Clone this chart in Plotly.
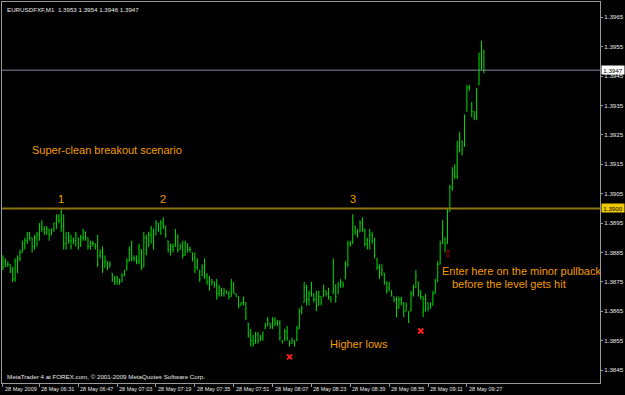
import pandas as pd
import plotly.graph_objects as go

symbol = "EURUSDFXF,M1"
bar_start = "2009-05-28 06:16"

opens = [
1.3880,1.3882,1.3881,1.3881,1.3879,1.3876,1.3882,1.3883,1.3885,1.3888,
1.3889,1.3891,1.3890,1.3887,1.3890,1.3891,1.3894,1.3893,1.3892,1.3893,
1.3891,1.3893,1.3895,1.3897,1.3896,1.3894,1.3888,1.3890,1.3889,1.3888,
1.3889,1.3890,1.3887,1.3890,1.3892,1.3890,1.3887,1.3888,1.3888,1.3887,
1.3884,1.3885,1.3880,1.3882,1.3880,1.3878,1.3876,1.3875,1.3876,1.3875,
1.3877,1.3879,1.3882,1.3886,1.3883,1.3883,1.3882,1.3886,1.3880,1.3890,
1.3887,1.3891,1.3893,1.3891,1.3895,1.3893,1.3895,1.3894,1.3889,1.3886,
1.3887,1.3887,1.3891,1.3886,1.3887,1.3884,1.3888,1.3886,1.3885,1.3883,
1.3880,1.3879,1.3877,1.3880,1.3877,1.3875,1.3874,1.3875,1.3874,1.3871,
1.3872,1.3871,1.3872,1.3871,1.3870,1.3874,1.3871,1.3870,1.3867,1.3868,
1.3868,1.3861,1.3857,1.3855,1.3854,1.3857,1.3855,1.3856,1.3859,1.3860,
1.3861,1.3860,1.3862,1.3861,1.3861,1.3855,1.3855,1.3858,1.3855,1.3854,
1.3855,1.3855,1.3859,1.3865,1.3868,1.3873,1.3869,1.3871,1.3871,1.3869,
1.3867,1.3870,1.3870,1.3872,1.3871,1.3870,1.3871,1.3874,1.3871,1.3874,
1.3875,1.3876,1.3881,1.3888,1.3888,1.3894,1.3892,1.3892,1.3895,1.3893,
1.3888,1.3889,1.3891,1.3889,1.3883,1.3880,1.3878,1.3878,1.3875,1.3872,
1.3872,1.3870,1.3869,1.3866,1.3869,1.3868,1.3865,1.3865,1.3865,1.3871,
1.3873,1.3875,1.3872,1.3870,1.3865,1.3868,1.3866,1.3867,1.3871,1.3875,
1.3881,1.3888,1.3890,1.3888,1.3899,1.3907,1.3912,1.3911,1.3921,1.3923,
1.3921,1.3933,1.3941,1.3936,1.3933,1.3931,1.3942,1.3951,1.3953]

highs = [
1.3884,1.3883,1.3882,1.3881,1.3880,1.3883,1.3884,1.3886,1.3889,1.3890,
1.3892,1.3892,1.3890,1.3891,1.3892,1.3895,1.3896,1.3894,1.3894,1.3893,
1.3893,1.3895,1.3898,1.3898,1.3900,1.3898,1.3892,1.3892,1.3891,1.3890,
1.3892,1.3890,1.3891,1.3893,1.3892,1.3890,1.3889,1.3889,1.3888,1.3891,
1.3886,1.3887,1.3884,1.3882,1.3882,1.3878,1.3877,1.3877,1.3876,1.3878,
1.3879,1.3883,1.3887,1.3889,1.3884,1.3884,1.3888,1.3886,1.3892,1.3891,
1.3892,1.3894,1.3893,1.3896,1.3895,1.3896,1.3897,1.3894,1.3889,1.3888,
1.3888,1.3893,1.3891,1.3888,1.3889,1.3889,1.3888,1.3887,1.3885,1.3885,
1.3883,1.3879,1.3881,1.3883,1.3878,1.3877,1.3876,1.3875,1.3876,1.3874,
1.3873,1.3873,1.3872,1.3872,1.3876,1.3875,1.3871,1.3870,1.3868,1.3870,
1.3868,1.3861,1.3859,1.3857,1.3858,1.3858,1.3857,1.3858,1.3861,1.3863,
1.3861,1.3863,1.3863,1.3862,1.3862,1.3855,1.3859,1.3860,1.3855,1.3856,
1.3855,1.3860,1.3866,1.3867,1.3875,1.3874,1.3872,1.3875,1.3871,1.3872,
1.3872,1.3870,1.3874,1.3872,1.3873,1.3870,1.3883,1.3874,1.3875,1.3876,
1.3875,1.3882,1.3889,1.3889,1.3898,1.3894,1.3893,1.3896,1.3897,1.3893,
1.3890,1.3893,1.3892,1.3890,1.3883,1.3881,1.3881,1.3878,1.3875,1.3875,
1.3872,1.3870,1.3870,1.3870,1.3870,1.3868,1.3868,1.3865,1.3872,1.3874,
1.3879,1.3875,1.3872,1.3870,1.3871,1.3868,1.3868,1.3872,1.3876,1.3882,
1.3889,1.3896,1.3890,1.3900,1.3908,1.3914,1.3915,1.3923,1.3926,1.3923,
1.3932,1.3942,1.3942,1.3936,1.3933,1.3941,1.3953,1.3957,1.3954]

lows = [
1.3879,1.3880,1.3880,1.3878,1.3875,1.3875,1.3878,1.3882,1.3885,1.3886,
1.3888,1.3889,1.3885,1.3886,1.3887,1.3889,1.3892,1.3891,1.3891,1.3889,
1.3891,1.3892,1.3893,1.3895,1.3892,1.3886,1.3886,1.3888,1.3886,1.3888,
1.3887,1.3886,1.3887,1.3889,1.3889,1.3886,1.3886,1.3887,1.3886,1.3880,
1.3883,1.3878,1.3880,1.3879,1.3880,1.3875,1.3874,1.3874,1.3874,1.3875,
1.3877,1.3879,1.3882,1.3882,1.3882,1.3881,1.3881,1.3879,1.3880,1.3884,
1.3887,1.3888,1.3886,1.3891,1.3892,1.3891,1.3893,1.3890,1.3885,1.3884,
1.3885,1.3887,1.3885,1.3886,1.3883,1.3884,1.3885,1.3885,1.3882,1.3878,
1.3879,1.3875,1.3877,1.3876,1.3874,1.3872,1.3874,1.3873,1.3869,1.3870,
1.3870,1.3870,1.3871,1.3869,1.3870,1.3871,1.3870,1.3866,1.3867,1.3867,
1.3862,1.3856,1.3853,1.3853,1.3854,1.3854,1.3855,1.3855,1.3859,1.3860,
1.3859,1.3859,1.3860,1.3860,1.3855,1.3854,1.3855,1.3855,1.3853,1.3854,
1.3853,1.3855,1.3859,1.3864,1.3868,1.3867,1.3867,1.3870,1.3868,1.3865,
1.3867,1.3867,1.3870,1.3870,1.3869,1.3868,1.3871,1.3868,1.3871,1.3873,
1.3873,1.3876,1.3880,1.3887,1.3888,1.3891,1.3890,1.3892,1.3892,1.3887,
1.3886,1.3886,1.3888,1.3883,1.3879,1.3876,1.3877,1.3874,1.3871,1.3872,
1.3870,1.3868,1.3863,1.3866,1.3867,1.3863,1.3865,1.3861,1.3865,1.3870,
1.3873,1.3870,1.3869,1.3863,1.3865,1.3865,1.3866,1.3867,1.3871,1.3875,
1.3881,1.3888,1.3885,1.3888,1.3899,1.3906,1.3910,1.3910,1.3919,1.3918,
1.3921,1.3933,1.3940,1.3931,1.3930,1.3930,1.3942,1.3947,1.3946]

closes = [
1.3882,1.3881,1.3881,1.3879,1.3876,1.3882,1.3883,1.3885,1.3888,1.3889,
1.3891,1.3890,1.3887,1.3890,1.3891,1.3894,1.3893,1.3892,1.3893,1.3891,
1.3893,1.3895,1.3897,1.3896,1.3894,1.3888,1.3890,1.3889,1.3887,1.3889,
1.3891,1.3887,1.3890,1.3892,1.3890,1.3887,1.3888,1.3888,1.3887,1.3881,
1.3885,1.3879,1.3882,1.3880,1.3881,1.3876,1.3875,1.3876,1.3875,1.3877,
1.3879,1.3882,1.3886,1.3883,1.3883,1.3882,1.3887,1.3880,1.3890,1.3886,
1.3891,1.3893,1.3888,1.3895,1.3893,1.3895,1.3894,1.3891,1.3886,1.3887,
1.3886,1.3892,1.3886,1.3887,1.3884,1.3888,1.3886,1.3886,1.3883,1.3880,
1.3882,1.3876,1.3880,1.3877,1.3875,1.3874,1.3875,1.3874,1.3871,1.3872,
1.3871,1.3872,1.3871,1.3870,1.3874,1.3871,1.3870,1.3867,1.3868,1.3868,
1.3863,1.3857,1.3855,1.3854,1.3857,1.3855,1.3856,1.3858,1.3860,1.3862,
1.3860,1.3862,1.3861,1.3861,1.3856,1.3855,1.3858,1.3856,1.3854,1.3855,
1.3854,1.3859,1.3865,1.3866,1.3873,1.3869,1.3871,1.3873,1.3869,1.3867,
1.3870,1.3868,1.3872,1.3871,1.3870,1.3869,1.3875,1.3870,1.3874,1.3875,
1.3874,1.3881,1.3888,1.3888,1.3895,1.3892,1.3891,1.3895,1.3893,1.3888,
1.3889,1.3891,1.3889,1.3884,1.3880,1.3878,1.3879,1.3875,1.3872,1.3873,
1.3871,1.3869,1.3866,1.3869,1.3868,1.3865,1.3867,1.3863,1.3871,1.3873,
1.3877,1.3872,1.3870,1.3865,1.3869,1.3866,1.3867,1.3871,1.3875,1.3881,
1.3888,1.3894,1.3888,1.3899,1.3907,1.3912,1.3911,1.3921,1.3924,1.3920,
1.3931,1.3941,1.3941,1.3933,1.3931,1.3940,1.3951,1.3955,1.3947]

level_price = 1.3900
price_ticks = [1.3845, 1.3855, 1.3865, 1.3875, 1.3885, 1.3895, 1.3905,
               1.3915, 1.3925, 1.3935, 1.3945, 1.3955, 1.3965]
time_tick_bars = [1] + list(range(16, 200, 16))

# chart objects (bar number, price)
cross_bars = [119, 173]
cross_prices = [1.38495, 1.38583]
arrow_bar = 184
arrow_price = 1.38842
peak_labels = ["1", "2", "3"]
peak_bars = [25, 67, 145]
peak_price = 1.39031

note_main = "Super-clean breakout scenario"
note_lows = "Higher lows"
note_entry1 = "Enter here on the minor pullback"
note_entry2 = "before the level gets hit"
copyright_text = "MetaTrader 4 at FOREX.com, \u00a9 2001-2009 MetaQuotes Software Corp."

times = pd.date_range(bar_start, periods=len(opens), freq="1min")
base = times[0] - pd.Timedelta(minutes=1)


def bar_time(n):
    return times[n - 1]


def fmt(t):
    return pd.Timestamp(t).strftime("%Y-%m-%d %H:%M:%S.%f")


x_lo = base + pd.Timedelta(minutes=0.6)
x_hi = base + pd.Timedelta(minutes=246.8)

GREEN = "#00e000"
ORANGE = "#f29c00"
FRAME = "#9a9a9a"
FONT = "Liberation Sans, Arial, sans-serif"
SMALL = dict(family=FONT, size=6.2, color="#e8e8e8")
TIME = dict(family=FONT, size=5.5, color="#e8e8e8")

fig = go.Figure()
fig.add_trace(go.Ohlc(
    x=times, open=opens, high=highs, low=lows, close=closes,
    increasing=dict(line=dict(color=GREEN, width=1)),
    decreasing=dict(line=dict(color=GREEN, width=1)),
    tickwidth=0.3, hoverinfo="skip", showlegend=False,
))

fig.add_trace(go.Scatter(
    x=[bar_time(b) for b in cross_bars], y=cross_prices, mode="markers",
    marker=dict(symbol="x-thin", size=5, color="#ff2020",
                line=dict(color="#ff2020", width=2)),
    hoverinfo="skip", showlegend=False,
))
fig.add_trace(go.Scatter(
    x=[bar_time(arrow_bar)], y=[arrow_price], mode="text", text=["\u21e7"],
    textposition="middle center",
    textfont=dict(family="DejaVu Sans", size=10, color="#c00000"),
    hoverinfo="skip", showlegend=False,
))

fig.add_hline(y=level_price, line=dict(color="#8c7412", width=2))
fig.add_hline(y=closes[-1], line=dict(color="#7d8c9c", width=1))

ann = []
ann.append(dict(xref="paper", yref="paper", x=0, y=1, xanchor="left", yanchor="top",
                xshift=3, yshift=-2, showarrow=False, font=SMALL,
                text=f"{symbol}  {opens[-1]:.4f} {highs[-1]:.4f} {lows[-1]:.4f} {closes[-1]:.4f}"))
ann.append(dict(xref="paper", yref="paper", x=0, y=0, xanchor="left", yanchor="bottom",
                xshift=3, yshift=1, showarrow=False, font=SMALL, text=copyright_text))
for b in time_tick_bars:
    t = bar_time(b)
    lab = t.strftime("%d %b %Y") if b == time_tick_bars[0] else t.strftime("%d %b %H:%M")
    ann.append(dict(xref="x", yref="paper", x=t, y=0, xanchor="left", yanchor="top",
                    xshift=0, yshift=-1, showarrow=False, font=TIME, text=lab))
for lab, b in zip(peak_labels, peak_bars):
    ann.append(dict(xref="x", yref="y", x=bar_time(b), y=peak_price, xanchor="center",
                    yanchor="middle", showarrow=False, text=lab,
                    font=dict(family=FONT, size=11, color=ORANGE)))
NOTE = dict(family=FONT, size=11, color=ORANGE)
ann.append(dict(xref="x", yref="y", x=bar_time(12), y=1.39197, xanchor="left",
                yanchor="middle", showarrow=False, text=note_main, font=NOTE))
ann.append(dict(xref="x", yref="y", x=bar_time(135), y=1.38539, xanchor="left",
                yanchor="middle", showarrow=False, text=note_lows, font=NOTE))
ann.append(dict(xref="x", yref="y", x=bar_time(181), y=1.38788, xanchor="left",
                yanchor="middle", showarrow=False, text=note_entry1, font=NOTE))
ann.append(dict(xref="x", yref="y", x=bar_time(185), y=1.38744, xanchor="left",
                yanchor="middle", showarrow=False, text=note_entry2, font=NOTE))
BOX = dict(family=FONT, size=6.2, color="#000000")
ann.append(dict(xref="paper", yref="y", x=1, y=closes[-1], xanchor="left", yanchor="middle",
                xshift=1, showarrow=False, text=f"{closes[-1]:.4f}", font=BOX,
                bgcolor="#ffffff", borderpad=0.5, width=21))
ann.append(dict(xref="paper", yref="y", x=1, y=level_price, xanchor="left", yanchor="middle",
                xshift=1, showarrow=False, text=f"{level_price:.4f}", font=BOX,
                bgcolor="#f0c800", borderpad=0.5, width=21))

fig.update_layout(
    width=625, height=395,
    margin=dict(l=1, r=23, t=1, b=12),
    paper_bgcolor="#000000", plot_bgcolor="#000000",
    annotations=ann, showlegend=False,
    xaxis=dict(type="date", range=[fmt(x_lo), fmt(x_hi)], rangeslider=dict(visible=False),
               showgrid=False, zeroline=False, showline=True, linecolor=FRAME, linewidth=1,
               mirror=True, ticks="outside", ticklen=3, tickcolor=FRAME,
               tickvals=[bar_time(b) for b in time_tick_bars], showticklabels=False),
    yaxis=dict(side="right", range=[1.38406, 1.39702], showgrid=False, zeroline=False,
               showline=True, linecolor=FRAME, linewidth=1, mirror=True,
               ticks="outside", ticklen=2, tickcolor=FRAME,
               tickvals=price_ticks, ticktext=[f"{p:.4f}" for p in price_ticks],
               tickfont=SMALL),
)

fig.write_html("out.html")
